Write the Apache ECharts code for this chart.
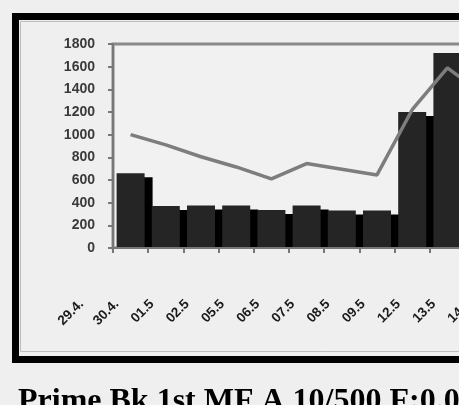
<!DOCTYPE html>
<html>
<head>
<meta charset="utf-8">
<script src="https://cdn.jsdelivr.net/npm/echarts@6/dist/echarts.min.js"></script>
<style>
html,body{margin:0;padding:0;background:#efefef;overflow:hidden;width:459px;height:405px;}
#c{width:640px;height:420px;}
</style>
</head>
<body>
<div id="c"></div>
<script>
var categories = ['29.4.', '30.4.', '01.5', '02.5', '05.5', '06.5', '07.5', '08.5', '09.5', '12.5', '13.5', '14.5'];
var barValues = [660, 370, 375, 375, 335, 375, 330, 330, 1200, 1720, null, null];
var lineValues = [1000, 910, 805, 715, 610, 745, 695, 645, 1220, 1590, 1360, null];
var yTicks = [0, 200, 400, 600, 800, 1000, 1200, 1400, 1600, 1800];
var caption = 'Prime Bk 1st MF A 10/500 F:0.0';

var chart = echarts.init(document.getElementById('c'), null, {renderer: 'canvas'});
var catW = 35.2;
var option = {
  backgroundColor: '#efefef',
  animation: false,
  grid: [
    {left: 113, top: 44, height: 204, width: catW * categories.length, show: true,
     backgroundColor: '#f1f1f1', borderColor: '#8a8a8a', borderWidth: 3},
    {left: 64, top: 44, height: 251, width: catW * categories.length, show: false}
  ],
  xAxis: [
    {type: 'category', gridIndex: 0, data: categories, z: 10,
     axisLine: {show: true, lineStyle: {color: '#777', width: 2}},
     axisTick: {show: true, alignWithLabel: false, length: 5, lineStyle: {color: '#777', width: 2}},
     axisLabel: {show: false}},
    {type: 'category', gridIndex: 1, data: categories,
     axisLine: {show: false}, axisTick: {show: false},
     axisLabel: {show: true, rotate: 45, margin: 7, fontSize: 13.5, fontWeight: 'bold',
                 color: '#1a1a1a', fontFamily: 'Liberation Sans, Arial'}}
  ],
  yAxis: [
    {type: 'value', gridIndex: 0, min: 0, max: 1800, interval: 200, z: 10,
     splitLine: {show: false},
     axisLine: {show: true, lineStyle: {color: '#777', width: 2}},
     axisTick: {show: true, length: 5, lineStyle: {color: '#777', width: 2}},
     axisLabel: {fontSize: 14, fontWeight: 'bold', color: '#3a3a3a', margin: 18, fontFamily: 'Liberation Sans, Arial',
       formatter: function (v) { return yTicks.indexOf(v) >= 0 ? String(v) : ''; }}},
    {type: 'value', gridIndex: 1, show: false, min: 0, max: 1}
  ],
  graphic: [
    {type: 'rect', z: 5, shape: {x: 113, y: 249, width: 500, height: 6}, style: {fill: '#efefef'}},
    {type: 'rect', z: 20, shape: {x: 15.5, y: 16.5, width: 600, height: 343},
     style: {fill: 'none', stroke: '#000', lineWidth: 7}},
    {type: 'rect', z: 20, shape: {x: 20.5, y: 21.5, width: 600, height: 330},
     style: {fill: 'none', stroke: '#bdbdbd', lineWidth: 1}},
    {type: 'text', z: 20, left: 18, top: 386,
     style: {text: caption, fill: '#000', font: 'bold 32px "Liberation Serif", "Times New Roman", serif'}}
  ],
  series: [
    {type: 'bar', xAxisIndex: 0, yAxisIndex: 0, data: barValues, barWidth: 28, z: 2,
     itemStyle: {color: '#252525', shadowColor: '#000', shadowBlur: 0, shadowOffsetX: 8, shadowOffsetY: 4}},
    {type: 'line', xAxisIndex: 0, yAxisIndex: 0, data: lineValues, z: 3, showSymbol: false, symbol: 'none',
     lineStyle: {color: '#7d7d7d', width: 3.5}, connectNulls: false}
  ]
};
chart.setOption(option);
</script>
</body>
</html>
